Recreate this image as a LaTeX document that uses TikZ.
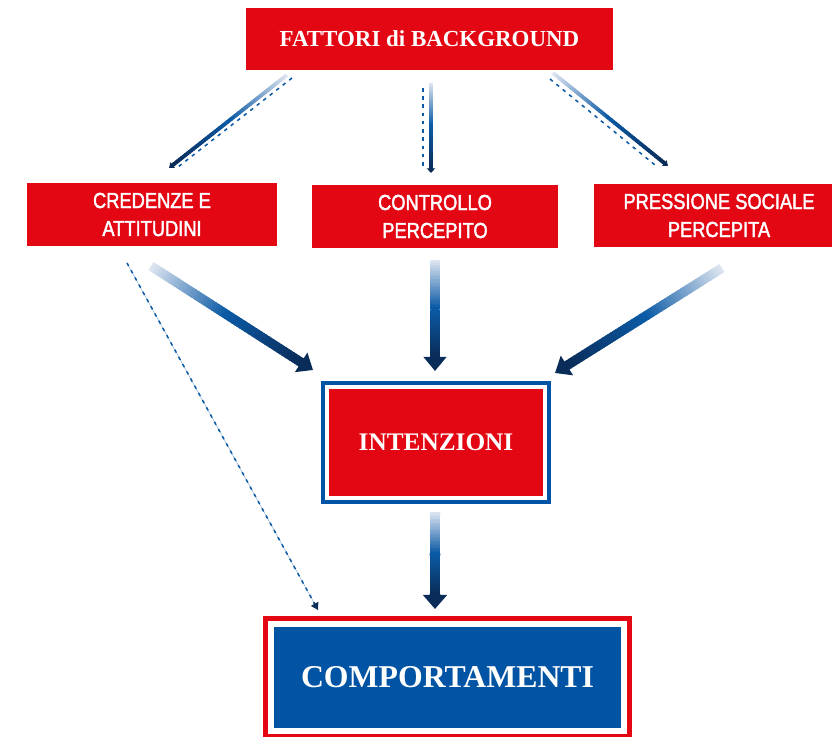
\documentclass[tikz,border=0pt]{standalone}
\usepackage{fontspec}
\setmainfont{Liberation Serif}
\newfontfamily\condsans[FakeStretch=0.84,FakeBold=2]{Liberation Sans}
\usepackage{xcolor}
\usetikzlibrary{calc,arrows.meta}

\definecolor{boxred}{HTML}{E30613}
\definecolor{boxblue}{HTML}{0054A3}
\definecolor{midblue}{HTML}{0B5AA5}
\definecolor{navy}{HTML}{0A2C58}
\definecolor{paleblue}{HTML}{DCE4F0}

% shaded arrow: from, to, shaft width, head length, head width
\newcommand{\gradarrow}[5]{%
  \coordinate (ga-base) at ($(#2)!#4!(#1)$);
  \foreach \i in {0,...,59}{
    \pgfmathsetmacro\ta{\i/60}
    \pgfmathsetmacro\tb{min((\i+1.5)/60,1)}
    \pgfmathtruncatemacro\mixa{mod(\i,30)*100/29}
    \ifnum\i<30 \def\gcol{midblue!\mixa!paleblue}\else\def\gcol{navy!\mixa!midblue}\fi
    \draw[line width=#3, color=\gcol] ($(#1)!\ta!(ga-base)$) -- ($(#1)!\tb!(ga-base)$);
  }
  \draw[navy, line width=#3, -{Triangle[length=#4, width=#5]}] ($(ga-base)!1pt!(#1)$) -- (#2);
}

\begin{document}
\begin{tikzpicture}[x=0.85pt, y=-0.85pt,
    topbox/.style={fill=boxred, text=white, inner sep=0pt,
      font=\bfseries\fontsize{19.5}{22}\selectfont,
      minimum width=312pt, minimum height=52.7pt},
    midbox/.style={fill=boxred, text=white, inner sep=0pt, align=center,
      font=\condsans\fontsize{18.5}{23.8}\selectfont,
      minimum width=212.5pt, minimum height=53.5pt},
    dashline/.style={midblue, line width=1.3pt, dash pattern=on 3pt off 4pt}]
  \useasboundingbox (0,0) rectangle (832,736);

  % boxes
  \node[topbox] (fattori) at (429.5,39) {FATTORI di BACKGROUND};
  \node[midbox] (credenze) at (152,214.5) {CREDENZE E\\ATTITUDINI};
  \node[midbox, minimum width=209pt] (controllo) at (435,216.5) {CONTROLLO\\PERCEPITO};
  \node[midbox] (pressione) at (719,215.5) {PRESSIONE SOCIALE\\PERCEPITA};
  \node[fill=boxred, text=white, font=\bfseries\fontsize{21.5}{24}\selectfont,
    minimum width=182pt, minimum height=91pt, inner sep=0pt] (intenz) at (436,442.5) {INTENZIONI};
  \draw[boxblue, line width=3.4pt] ($(intenz.north west)+(-6,-6)$) rectangle ($(intenz.south east)+(6,6)$);
  \node[fill=boxblue, text=white, font=\bfseries\fontsize{27}{30}\selectfont,
    minimum width=295pt, minimum height=86pt, inner sep=0pt] (comport) at (447.5,677.5) {COMPORTAMENTI};
  \draw[boxred, line width=4.25pt] ($(comport.north west)+(-8,-8)$) rectangle ($(comport.south east)+(8,8)$);

  % arrow ends
  \coordinate (f-left) at (287,75);   \coordinate (cr-in) at (169,168);
  \coordinate (f-mid) at (431,83);    \coordinate (co-in) at (431,173);
  \coordinate (f-right) at (553,73);  \coordinate (pr-in) at (668,166);
  \coordinate (fd-left) at (292,78);  \coordinate (crd-in) at (178,167);
  \coordinate (fd-mid) at (423,88);   \coordinate (cod-in) at (423,166);
  \coordinate (fd-right) at (550,79); \coordinate (prd-in) at (655,165);
  \coordinate (cr-out) at (151,266);  \coordinate (in-left) at (313,370);
  \coordinate (co-out) at (435,260);  \coordinate (in-top) at (435,371);
  \coordinate (pr-out) at (722,268);  \coordinate (in-right) at (555,373);
  \coordinate (in-out) at (435,512);  \coordinate (cp-top) at (435,609);
  \coordinate (crd-out) at (127,263); \coordinate (cp-left) at (318,610);

  % from background factors
  \draw[dashline] (fd-left) -- (crd-in);
  \draw[dashline] (fd-mid) -- (cod-in);
  \draw[dashline] (fd-right) -- (prd-in);
  \gradarrow{f-left}{cr-in}{3.2pt}{4pt}{6pt}
  \gradarrow{f-mid}{co-in}{3.2pt}{4pt}{7pt}
  \gradarrow{f-right}{pr-in}{3.2pt}{4pt}{6pt}

  % towards intentions
  \gradarrow{cr-out}{in-left}{8pt}{12pt}{19pt}
  \gradarrow{co-out}{in-top}{8pt}{12pt}{19pt}
  \gradarrow{pr-out}{in-right}{8pt}{12pt}{19pt}
  \gradarrow{in-out}{cp-top}{9pt}{12pt}{20pt}

  % direct link
  \draw[paleblue!60!midblue, line width=0.4pt] (crd-out) -- (cp-left);
  \draw[dashline, shorten >=5pt] (crd-out) -- (cp-left);
  \draw[navy, line width=1.2pt, -{Triangle[length=6pt, width=7pt]}] ($(cp-left)!7pt!(crd-out)$) -- (cp-left);
\end{tikzpicture}
\end{document}
